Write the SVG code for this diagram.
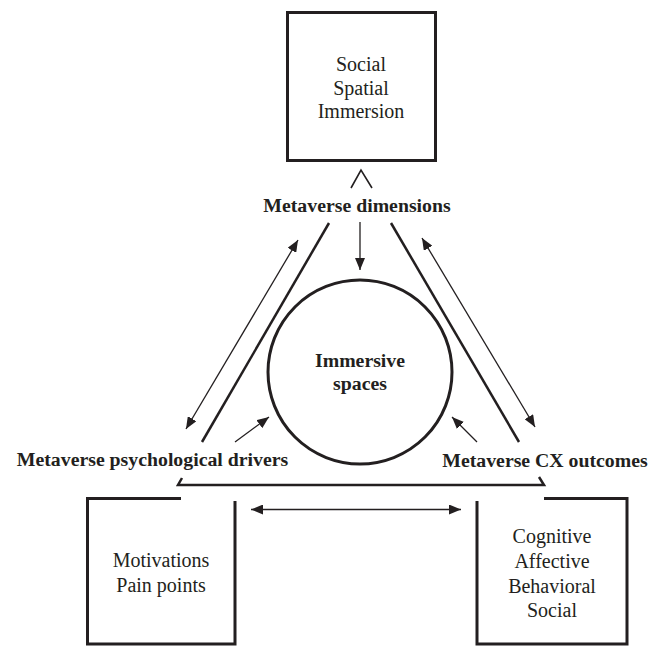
<svg xmlns="http://www.w3.org/2000/svg" width="663" height="646" viewBox="0 0 663 646">
<style>
.box{fill:none;stroke:#231f20;stroke-width:3}
.thick{fill:none;stroke:#231f20;stroke-width:2.5}
.arr{fill:none;stroke:#231f20;stroke-width:1.3}
.reg{font-family:"Liberation Serif","Times New Roman",serif;font-size:20px;fill:#231f20;text-anchor:middle}
.bold{font-family:"Liberation Serif","Times New Roman",serif;font-size:19.8px;font-weight:bold;fill:#231f20;text-anchor:middle}
</style>
<defs>
<marker id="ah" viewBox="0 0 12 10" refX="12" refY="5" markerWidth="12" markerHeight="10" markerUnits="userSpaceOnUse" orient="auto-start-reverse">
<path d="M0,0 L12,5 L0,10 Z" fill="#231f20"/>
</marker>
</defs>
<rect width="663" height="646" fill="#fff"/>
<g id="node-top">
<rect class="box" x="287.5" y="12.5" width="148" height="148"/>
<text class="reg" x="361" y="71">Social</text>
<text class="reg" x="361" y="94.5">Spatial</text>
<text class="reg" x="361" y="118">Immersion</text>
</g>
<g id="node-dimensions">
<polyline class="arr" points="351,188 361,170 372,188" style="stroke-width:1.6"/>
<text class="bold" x="357" y="212">Metaverse dimensions</text>
</g>
<g id="node-center">
<circle class="box" cx="360" cy="372" r="92"/>
<text class="bold" x="360" y="367">Immersive</text>
<text class="bold" x="360" y="390">spaces</text>
</g>
<g id="node-drivers">
<text class="bold" x="152.5" y="466">Metaverse psychological drivers</text>
</g>
<g id="node-outcomes">
<text class="bold" x="545" y="467">Metaverse CX outcomes</text>
</g>
<g id="node-left-box">
<polyline class="box" points="181,498.5 87.5,498.5 87.5,644 235,644 235,501"/>
<text class="reg" x="161" y="567">Motivations</text>
<text class="reg" x="161" y="592">Pain points</text>
</g>
<g id="node-right-box">
<polyline class="box" points="544,498.5 627,498.5 627,644 477,644 477,501"/>
<text class="reg" x="552" y="543">Cognitive</text>
<text class="reg" x="552" y="568">Affective</text>
<text class="reg" x="552" y="593">Behavioral</text>
<text class="reg" x="552" y="617">Social</text>
</g>
<g id="connectors">
<line class="thick" x1="329" y1="223" x2="202" y2="442"/>
<line class="thick" x1="391" y1="223" x2="519" y2="442"/>
<polyline class="thick" points="182,478 178,485 544,485 539,477"/>
<line class="arr" x1="360" y1="222" x2="360" y2="270" marker-end="url(#ah)"/>
<line class="arr" x1="186" y1="429" x2="298" y2="240" marker-start="url(#ah)" marker-end="url(#ah)"/>
<line class="arr" x1="422" y1="238" x2="535" y2="427" marker-start="url(#ah)" marker-end="url(#ah)"/>
<line class="arr" x1="235" y1="442" x2="269" y2="417" marker-end="url(#ah)"/>
<line class="arr" x1="477" y1="442" x2="452" y2="417" marker-end="url(#ah)"/>
<line class="arr" x1="251" y1="509.5" x2="461" y2="509.5" marker-start="url(#ah)" marker-end="url(#ah)"/>
</g>
</svg>
